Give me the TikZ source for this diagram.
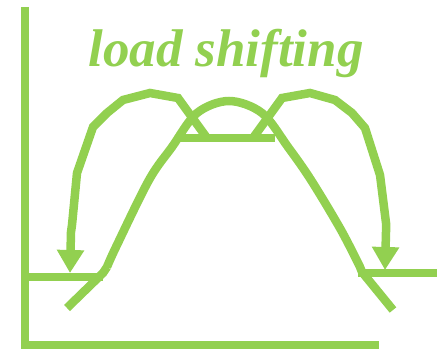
\documentclass[tikz,border=0pt]{standalone}
\usepackage{fontspec}
\setmainfont{Liberation Serif}
\usetikzlibrary{arrows.meta}
\definecolor{lg}{RGB}{146,208,80}
\tikzset{
  gl/.style={draw=lg, line width=8.5pt, line join=miter},
  garrow/.style={gl, -{Triangle[width=26pt,length=23pt]}},
}
\begin{document}
\begin{tikzpicture}[x=1pt,y=-1pt]
\useasboundingbox (0,0) rectangle (437,350);
% axes
\draw[gl] (25,7) -- (25,345) -- (379,345);
% baseline levels
\draw[gl] (29,277) -- (103,277);
\draw[gl] (358,273) -- (437,273);
% flat top
\draw[gl] (180,138) -- (275,138);
% bell curve
\draw[gl] (67,308) -- (103,273) -- (107,267)
  plot[smooth, tension=0.55] coordinates {(107,267) (116,247) (149,180) (172,147) (197,113) (229,101) (262,113) (288,147) (311,180) (341,230) (360,267)}
  -- (362,272) -- (393,310);
% arrows
\coordinate (la) at (70,273);
\coordinate (ra) at (385,270);
\draw[garrow] (207,138) -- (178,98) -- (150,93) -- (123,100) -- (107,113) -- (93,127) -- (77,173) -- (72,225) -- (71,232) -- (la);
\draw[garrow] (253,138) -- (282,98) -- (310,93) -- (335,100) -- (352,113) -- (365,128) -- (380,175) -- (386,223) -- (386,232) -- (ra);
% title
\node[text=lg, font=\fontsize{53}{53}\selectfont\bfseries\itshape, anchor=base, inner sep=0pt] (title) at (226,67) {load shifting};
\end{tikzpicture}
\end{document}
